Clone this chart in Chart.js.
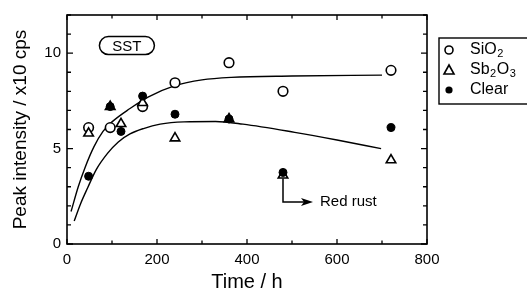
<!DOCTYPE html>
<html>
<head>
<meta charset="utf-8">
<script src="https://cdn.jsdelivr.net/npm/chart.js@4/dist/chart.umd.min.js"></script>
<style>
  html, body { margin: 0; padding: 0; background: #fff; }
  #wrap { width: 527px; height: 294px; position: relative; }
</style>
</head>
<body>
<div id="wrap"><canvas id="peakChart"></canvas></div>
<script>
// Measured points (time in h)
const siO2Times = [48, 96, 168, 240, 360, 480, 720];
const siO2Values = [6.1, 6.1, 7.2, 8.45, 9.5, 8.0, 9.1];

const sb2O3Times = [48, 96, 120, 168, 240, 360, 480, 720];
const sb2O3Values = [5.8, 7.2, 6.3, 7.4, 5.55, 6.55, 3.6, 4.4];

const clearTimes = [48, 96, 120, 168, 240, 360, 480, 720];
const clearValues = [3.55, 7.2, 5.9, 7.75, 6.8, 6.55, 3.75, 6.1];

// Hand-drawn trend curves
const upperCurveTimes = [9, 25, 40, 60, 80, 100, 140, 180, 240, 300, 365, 500, 700];
const upperCurveValues = [1.7, 3.0, 4.0, 5.1, 5.9, 6.4, 7.1, 7.7, 8.3, 8.6, 8.73, 8.8, 8.85];

const lowerCurveTimes = [16, 30, 46, 65, 90, 114, 140, 170, 207, 260, 330, 391, 506, 600, 698];
const lowerCurveValues = [1.2, 2.1, 2.95, 3.9, 4.75, 5.35, 5.77, 6.05, 6.28, 6.4, 6.42, 6.28, 5.85, 5.45, 5.0];

// Red rust note: the rusted sample at 480 h
const rustTime = 480;
const rustArrowValue = 2.2;
const rustArrowEndTime = 540;

const xTickStep = 100;
const yTickStep = 1;

const FONT = "'Liberation Sans', Arial, sans-serif";

function toXY(times, values) {
    return times.map((t, i) => ({ x: t, y: values[i] }));
}

// Sb2O3 markers hidden under a Clear marker look filled in the figure
const sb2O3Fill = sb2O3Times.map((t, i) => {
    const j = clearTimes.indexOf(t);
    return (j >= 0 && Math.abs(clearValues[j] - sb2O3Values[i]) < 0.05) ? '#000' : '#fff';
});

// Inward ticks on all four sides, frame, SST tag, legend and rust arrow
const framePlugin = {
    id: 'frame',
    afterDatasetsDraw(chart) {
        const { ctx, chartArea: a, scales: { x, y } } = chart;
        ctx.save();
        ctx.strokeStyle = '#000';
        ctx.lineWidth = 1.6;
        ctx.strokeRect(a.left, a.top, a.right - a.left, a.bottom - a.top);

        ctx.lineWidth = 1.3;
        ctx.beginPath();
        x.ticks.forEach(tk => {
            const px = x.getPixelForValue(tk.value);
            const len = tk.value % 200 === 0 ? 5 : 3.5;
            ctx.moveTo(px, a.bottom); ctx.lineTo(px, a.bottom - len);
            ctx.moveTo(px, a.top); ctx.lineTo(px, a.top + len);
        });
        y.ticks.forEach(tk => {
            const py = y.getPixelForValue(tk.value);
            const len = tk.value % 5 === 0 ? 6 : 4;
            ctx.moveTo(a.left, py); ctx.lineTo(a.left + len, py);
            ctx.moveTo(a.right, py); ctx.lineTo(a.right - len, py);
        });
        ctx.stroke();

        // SST tag
        const cx = x.getPixelForValue(132), cy = y.getPixelForValue(10.4);
        ctx.lineWidth = 1.5;
        ctx.beginPath();
        ctx.roundRect(cx - 27, cy - 9, 55, 18, 9);
        ctx.stroke();
        ctx.fillStyle = '#000';
        ctx.font = '15px ' + FONT;
        ctx.textAlign = 'center';
        ctx.textBaseline = 'middle';
        ctx.fillText('SST', cx + 0.5, cy + 1);

        // Red rust arrow
        const rx = x.getPixelForValue(rustTime);
        const ry = y.getPixelForValue(rustArrowValue);
        const ex = x.getPixelForValue(rustArrowEndTime);
        ctx.lineWidth = 1.5;
        ctx.beginPath();
        ctx.moveTo(rx, y.getPixelForValue(clearValues[clearTimes.indexOf(rustTime)]) + 6);
        ctx.lineTo(rx, ry);
        ctx.lineTo(ex - 6, ry);
        ctx.stroke();
        ctx.beginPath();
        ctx.moveTo(ex + 3, ry);
        ctx.lineTo(ex - 9, ry - 4);
        ctx.lineTo(ex - 6, ry);
        ctx.lineTo(ex - 9, ry + 4);
        ctx.closePath();
        ctx.fill();
        ctx.textAlign = 'left';
        ctx.font = '15px ' + FONT;
        ctx.fillText('Red rust', ex + 10, ry);

        // Legend box
        const lx = 439, ly = 38;
        ctx.lineWidth = 1.4;
        ctx.strokeRect(lx, ly, 90, 66);
        const rows = [
            { parts: [['SiO', 0], ['2', 1]], style: 'openCircle' },
            { parts: [['Sb', 0], ['2', 1], ['O', 0], ['3', 1]], style: 'triangle' },
            { parts: [['Clear', 0]], style: 'dot' }
        ];
        rows.forEach((row, i) => {
            const my = ly + 12 + i * 20;
            const mx = lx + 10;
            ctx.lineWidth = 1.6;
            ctx.beginPath();
            if (row.style === 'openCircle') {
                ctx.arc(mx, my, 4, 0, Math.PI * 2);
                ctx.stroke();
            } else if (row.style === 'triangle') {
                ctx.moveTo(mx, my - 5); ctx.lineTo(mx + 5, my + 4); ctx.lineTo(mx - 5, my + 4);
                ctx.closePath();
                ctx.stroke();
            } else {
                ctx.arc(mx, my, 3.6, 0, Math.PI * 2);
                ctx.fill();
            }
            let tx = lx + 31;
            row.parts.forEach(([s, sub]) => {
                ctx.font = (sub ? '11px ' : '16px ') + FONT;
                ctx.fillText(s, tx, my + (sub ? 4 : 0));
                tx += ctx.measureText(s).width + 0.5;
            });
        });
        ctx.restore();
    }
};

new Chart(document.getElementById('peakChart').getContext('2d'), {
    type: 'scatter',
    data: {
        datasets: [{
            label: 'Clear',
            data: toXY(clearTimes, clearValues),
            pointStyle: 'circle',
            pointRadius: 4,
            backgroundColor: '#000',
            borderColor: '#000',
            borderWidth: 1,
            order: 1
        }, {
            label: 'Sb2O3',
            data: toXY(sb2O3Times, sb2O3Values),
            pointStyle: 'triangle',
            pointRadius: 5.5,
            backgroundColor: sb2O3Fill,
            borderColor: '#000',
            borderWidth: 1.6,
            order: 2
        }, {
            label: 'SiO2',
            data: toXY(siO2Times, siO2Values),
            pointStyle: 'circle',
            pointRadius: 4.8,
            backgroundColor: '#fff',
            borderColor: '#000',
            borderWidth: 1.6,
            order: 3
        }, {
            type: 'line',
            label: 'upper trend',
            data: toXY(upperCurveTimes, upperCurveValues),
            borderColor: '#000',
            borderWidth: 1.4,
            pointRadius: 0,
            cubicInterpolationMode: 'monotone',
            fill: false,
            order: 4
        }, {
            type: 'line',
            label: 'lower trend',
            data: toXY(lowerCurveTimes, lowerCurveValues),
            borderColor: '#000',
            borderWidth: 1.4,
            pointRadius: 0,
            cubicInterpolationMode: 'monotone',
            fill: false,
            order: 5
        }]
    },
    options: {
        responsive: true,
        maintainAspectRatio: false,
        animation: false,
        layout: { padding: { top: 13, right: 100, left: 0, bottom: 0 } },
        plugins: {
            legend: { display: false },
            tooltip: { enabled: false }
        },
        scales: {
            x: {
                type: 'linear',
                min: 0,
                max: 800,
                grid: { display: false, drawTicks: false },
                border: { display: false },
                ticks: {
                    stepSize: xTickStep,
                    autoSkip: false,
                    maxRotation: 0,
                    padding: 7,
                    color: '#000',
                    font: { family: FONT, size: 15 },
                    callback: v => (v % 200 === 0 ? v : '')
                },
                title: {
                    display: true,
                    text: 'Time / h',
                    color: '#000',
                    font: { family: FONT, size: 20 },
                    padding: { top: 0, bottom: 0 }
                },
                afterFit: s => { s.height = 50; }
            },
            y: {
                type: 'linear',
                min: 0,
                max: 12,
                grid: { display: false, drawTicks: false },
                border: { display: false },
                ticks: {
                    stepSize: yTickStep,
                    autoSkip: false,
                    padding: 6,
                    color: '#000',
                    font: { family: FONT, size: 15 },
                    callback: v => (v % 5 === 0 ? v : '')
                },
                title: {
                    display: true,
                    text: 'Peak intensity / x10 cps',
                    color: '#000',
                    font: { family: FONT, size: 19 },
                    padding: { top: 9, bottom: 0 }
                },
                afterFit: s => { s.width = 67; }
            }
        }
    },
    plugins: [framePlugin]
});
</script>
</body>
</html>
